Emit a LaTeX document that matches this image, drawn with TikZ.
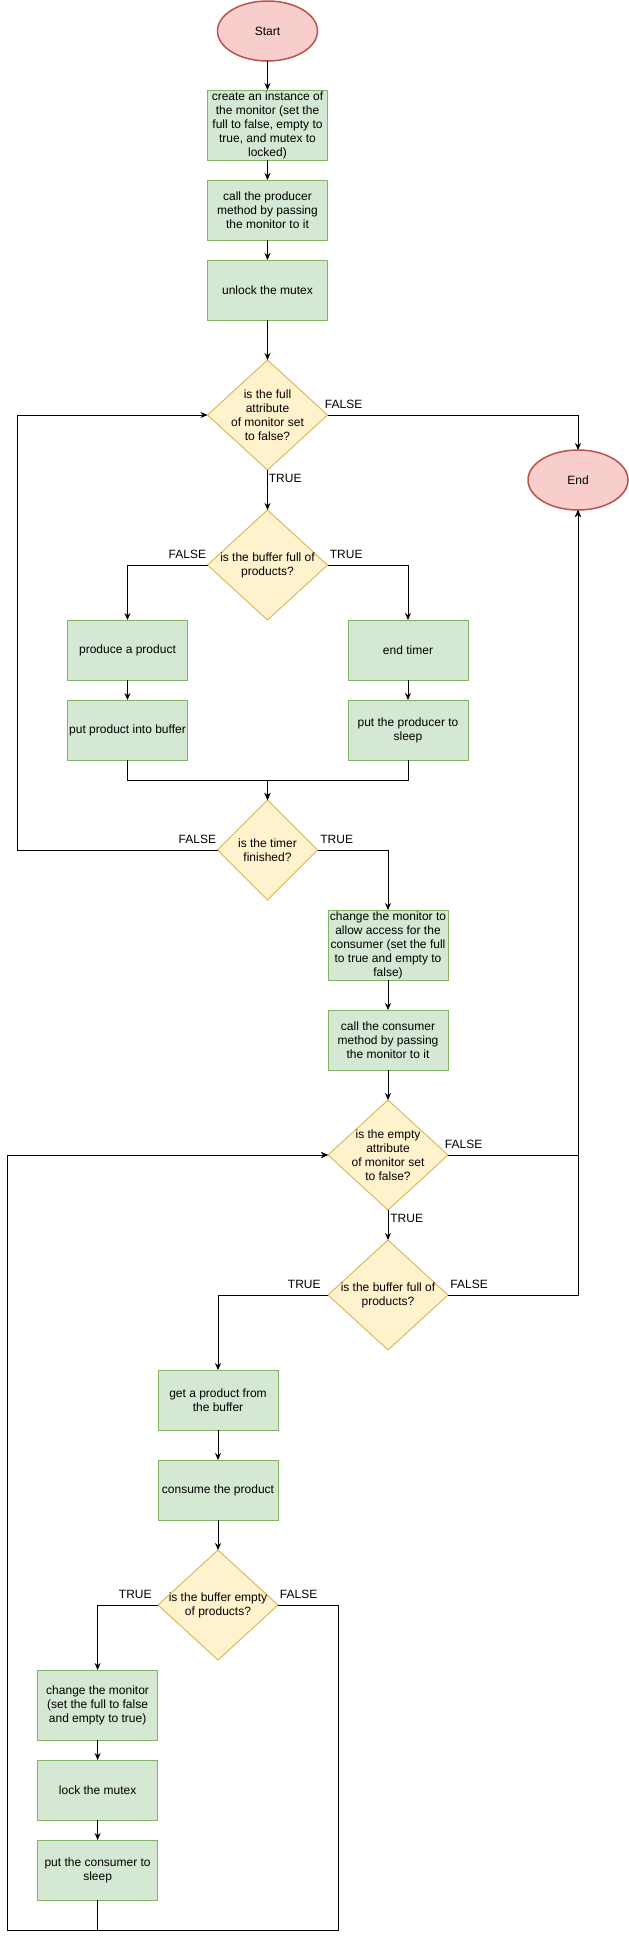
\documentclass[tikz,border=0pt]{standalone}
\usepackage{fontspec}
\setmainfont{Liberation Sans}
\usepackage{tikz}
\usetikzlibrary{shapes.geometric, arrows.meta, positioning}
\definecolor{greenfill}{HTML}{D5E8D4}
\definecolor{greenline}{HTML}{82B366}
\definecolor{yellowfill}{HTML}{FFF2CC}
\definecolor{yellowline}{HTML}{D6B656}
\definecolor{pinkfill}{HTML}{F8CECC}
\definecolor{pinkline}{HTML}{B85450}
\tikzset{
    term_pink/.style={ellipse, draw=pinkline, fill=pinkfill, line width=1.5pt, outer sep=0pt, minimum width=100pt, minimum height=60pt},
    proc_green/.style={rectangle, draw=greenline, fill=greenfill, line width=0.9pt, outer sep=0pt, align=center, inner sep=1pt, minimum width=120pt, minimum height=60pt},
    cond_yellow/.style={diamond, draw=yellowline, fill=yellowfill, line width=0.9pt, outer sep=0pt, align=center, inner sep=-6pt, minimum width=120pt, minimum height=110pt},
    tag/.style={inner sep=1pt},
    arrow/.style={-{Stealth[length=7pt, width=6pt]}, line width=0.8pt}
}

\begin{document}
\begin{tikzpicture}[x=1pt, y=-1pt, font=\fontsize{12}{14}\selectfont]
			\useasboundingbox (0,0) rectangle (629,1941);
			% producer part
			\node (start) [term_pink] at (267.5,31) {Start};
			\node (create) [proc_green, below=29pt of start, minimum height=70pt, inner ysep=0pt] {create an instance of\\the monitor (set the\\full to false, empty to\\true, and mutex to\\locked)};
			\node (callprod) [proc_green, below=20pt of create] {call the producer\\method by passing\\the monitor to it};
			\node (unlock) [proc_green, below=20pt of callprod] {unlock the mutex};
			\node (fullchk) [cond_yellow, below=40pt of unlock] {is the full\\attribute\\of monitor set\\to false?};
			\node (stop) [term_pink] at (578,480) {End};
			\node (bufchk) [cond_yellow, below=40pt of fullchk] {is the buffer full of\\products?};
			\node (produce) [proc_green] at (127.5,650) {produce a product};
			\node (putbuf) [proc_green, below=20pt of produce] {put product into buffer};
			\node (endtimer) [proc_green] at (408,650) {end timer};
			\node (sleepprod) [proc_green, below=20pt of endtimer] {put the producer to\\sleep};
			\node (timerchk) [cond_yellow, minimum width=100pt, minimum height=100pt] at (267.5,850) {is the timer\\finished?};
			% consumer part
			\node (monitorcons) [proc_green, minimum height=70pt, inner ysep=0pt] at (388,945) {change the monitor to\\allow access for the\\consumer (set the full\\to true and empty to\\false)};
			\node (callcons) [proc_green, below=30pt of monitorcons] {call the consumer\\method by passing\\the monitor to it};
			\node (emptychk) [cond_yellow, below=30pt of callcons] {is the empty\\attribute\\of monitor set\\to false?};
			\node (bufchk2) [cond_yellow, below=30pt of emptychk] {is the buffer full of\\products?};
			\node (getprod) [proc_green] at (218,1400) {get a product from\\the buffer};
			\node (consume) [proc_green, below=30pt of getprod] {consume the product};
			\node (emptybuf) [cond_yellow, below=30pt of consume] {is the buffer empty\\of products?};
			\node (monitorprod) [proc_green, minimum height=70pt] at (97.6,1705) {change the monitor\\(set the full to false\\and empty to true)};
			\node (lock) [proc_green, below=20pt of monitorprod] {lock the mutex};
			\node (sleepcons) [proc_green, below=20pt of lock] {put the consumer to\\sleep};

			\coordinate (merge) at (267.5,780);
			\coordinate (loopA) at (17.7,850);
			\coordinate (loopB) at (338.6,1930.7);
			\coordinate (loopC) at (7.2,1930.7);

			\draw [arrow] (start) -- (create);
			\draw [arrow] (create) -- (callprod);
			\draw [arrow] (callprod) -- (unlock);
			\draw [arrow] (unlock) -- (fullchk);
			\draw [arrow] (fullchk.east) -| node[tag, pos=0, anchor=south west, xshift=-4pt, yshift=5pt]{FALSE} (stop.north);
			\draw [arrow] (fullchk) -- node[tag, pos=0, anchor=north west, yshift=-3pt]{TRUE} (bufchk);
			\draw [arrow] (bufchk.west) -| node[tag, pos=0, anchor=south east, yshift=5pt]{FALSE} (produce.north);
			\draw [arrow] (bufchk.east) -| node[tag, pos=0, anchor=south west, xshift=1pt, yshift=5pt]{TRUE} (endtimer.north);
			\draw [arrow] (produce) -- (putbuf);
			\draw [arrow] (endtimer) -- (sleepprod);
			\draw [arrow] (putbuf.south) |- (merge) -- (timerchk);
			\draw [arrow] (sleepprod.south) |- (merge) -- (timerchk);
			\draw [arrow] (timerchk.west) -- node[tag, pos=0, anchor=south east, yshift=5pt]{FALSE} (loopA) |- (fullchk.west);
			\draw [arrow] (timerchk.east) -| node[tag, pos=0, anchor=south west, xshift=1.5pt, yshift=5pt]{TRUE} (monitorcons.north);
			\draw [arrow] (monitorcons) -- (callcons);
			\draw [arrow] (callcons) -- (emptychk);
			\draw [arrow] (emptychk.east) -| node[tag, pos=0, anchor=south west, xshift=-4.5pt, yshift=5pt]{FALSE} (stop.south);
			\draw [arrow] (emptychk) -- node[tag, pos=0, anchor=north west, xshift=1pt, yshift=-3pt]{TRUE} (bufchk2);
			\draw [arrow] (bufchk2.east) -| node[tag, pos=0, anchor=south west, xshift=1pt, yshift=5pt]{FALSE} (stop.south);
			\draw [arrow] (bufchk2.west) -| node[tag, pos=0, anchor=south east, xshift=-6pt, yshift=5pt]{TRUE} (getprod.north);
			\draw [arrow] (getprod) -- (consume);
			\draw [arrow] (consume) -- (emptybuf);
			\draw [arrow] (emptybuf.west) -| node[tag, pos=0, anchor=south east, xshift=-5pt, yshift=5pt]{TRUE} (monitorprod.north);
			\draw [arrow] (emptybuf.east) -| node[tag, pos=0, anchor=south west, xshift=0.5pt, yshift=5pt]{FALSE} (loopB) -- (loopC) |- (emptychk.west);
			\draw [arrow] (monitorprod) -- (lock);
			\draw [arrow] (lock) -- (sleepcons);
			\draw [arrow] (sleepcons.south) |- (loopC) |- (emptychk.west);
		\end{tikzpicture}
\end{document}
